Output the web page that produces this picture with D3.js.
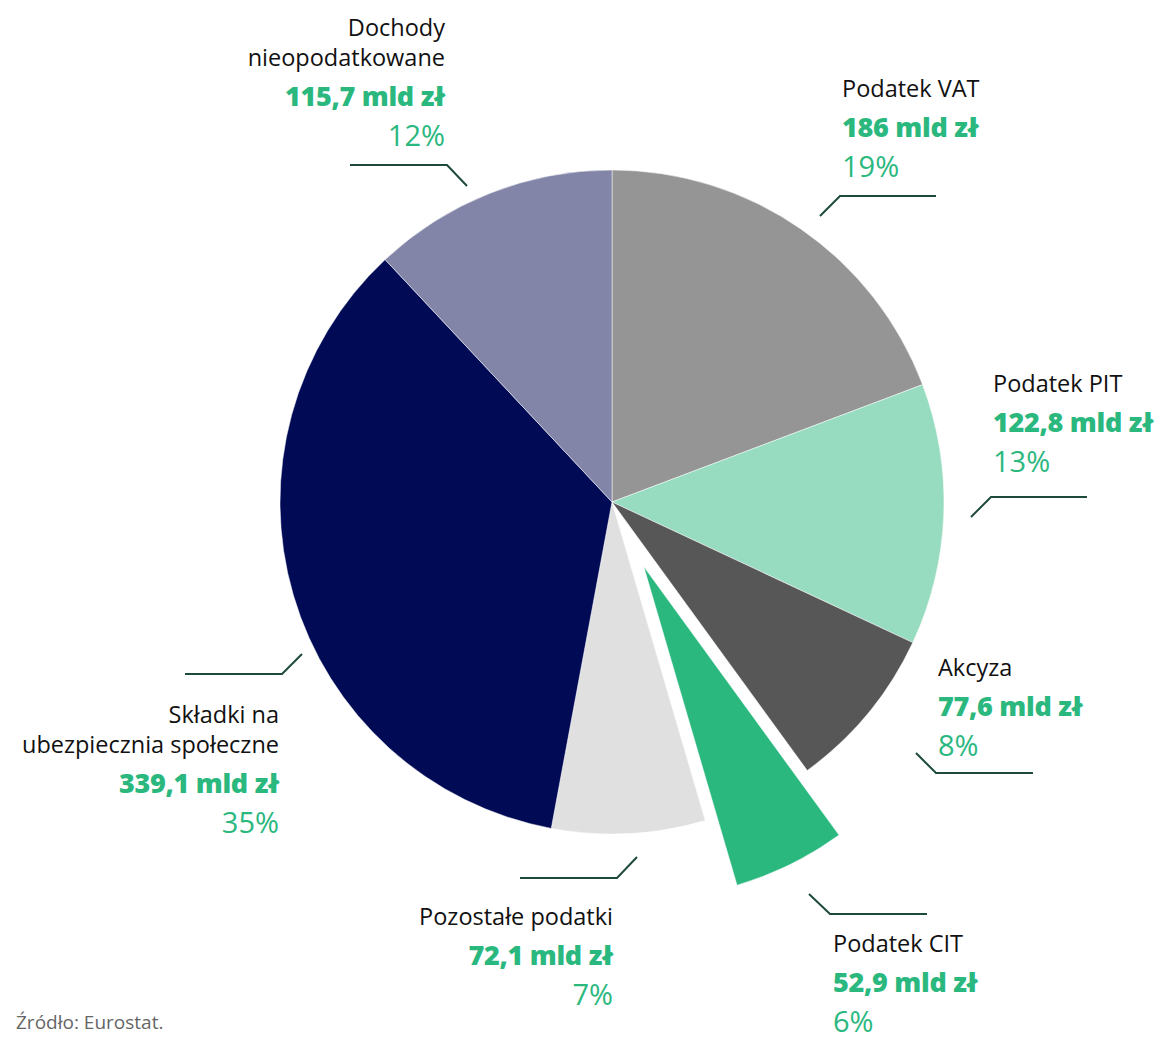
<!DOCTYPE html>
<html>
<head>
<meta charset="utf-8">
<script src="https://cdn.jsdelivr.net/npm/d3@7"></script>
<style>
  body { margin: 0; background: #fff; }
  svg { display: block; font-family: "Open Sans", Lato, sans-serif; }
</style>
</head>
<body>
<svg width="1167" height="1039"></svg>
<script>
// dochody budżetu, mld zł (źródło: Eurostat)
var categories = ["Podatek VAT", "Podatek PIT", "Akcyza", "Podatek CIT", "Pozostałe podatki", "Składki na ubezpiecznia społeczne", "Dochody nieopodatkowane"];
var values = [186, 122.8, 77.6, 52.9, 72.1, 339.1, 115.7];
var valueLabels = ["186 mld zł", "122,8 mld zł", "77,6 mld zł", "52,9 mld zł", "72,1 mld zł", "339,1 mld zł", "115,7 mld zł"];
var pctLabels = ["19%", "13%", "8%", "6%", "7%", "35%", "12%"];
var nameLines = [["Podatek VAT"], ["Podatek PIT"], ["Akcyza"], ["Podatek CIT"], ["Pozostałe podatki"], ["Składki na", "ubezpiecznia społeczne"], ["Dochody", "nieopodatkowane"]];
var colors = ["#959595", "#97dcc0", "#575757", "#2bb87f", "#e0e0e0", "#000a55", "#8285a8"];
var highlighted = "Podatek CIT";

var svg = d3.select("svg"),
    cx = 612, cy = 502,
    radius = 332,
    explode = 72;

var green = "#2bb87f", leaderColor = "#1e4a3a";

// label placement: text anchor point (first baseline) and the leader line
// leader: horizontal segment from hx1 to hx2 at hy, then a 20px diagonal toward the pie
var labelLayout = {
  "Podatek VAT":      {x: 842, y: 97,  anchor: "start", hx1: 840, hx2: 936,  hy: 196, dx: -20, dy: 20, from: "hx1"},
  "Podatek PIT":      {x: 993, y: 392, anchor: "start", hx1: 991, hx2: 1087, hy: 497, dx: -20, dy: 20, from: "hx1"},
  "Akcyza":           {x: 938, y: 676, anchor: "start", hx1: 936, hx2: 1033, hy: 773, dx: -20, dy: -20, from: "hx1"},
  "Podatek CIT":      {x: 833, y: 952, anchor: "start", hx1: 830, hx2: 927,  hy: 914, dx: -21, dy: -20, from: "hx1"},
  "Pozostałe podatki":{x: 613, y: 925, anchor: "end",   hx1: 520, hx2: 617,  hy: 878, dx: 20, dy: -21, from: "hx2"},
  "Składki na ubezpiecznia społeczne": {x: 279, y: 723, anchor: "end", hx1: 185, hx2: 282, hy: 674, dx: 20, dy: -20, from: "hx2"},
  "Dochody nieopodatkowane": {x: 445, y: 36, anchor: "end", hx1: 350, hx2: 447, hy: 165, dx: 20, dy: 21, from: "hx2"}
};

var data = categories.map(function(c, i) {
  return {name: c, value: values[i], valueLabel: valueLabels[i], pct: pctLabels[i], lines: nameLines[i], color: colors[i]};
});

var pie = d3.pie()
    .sort(null)
    .value(function(d) { return d.value; });

var arc = d3.arc()
    .innerRadius(0)
    .outerRadius(radius);

var arcs = pie(data);

var g = svg.append("g")
    .attr("transform", "translate(" + cx + "," + cy + ")");

g.selectAll("path")
    .data(arcs)
  .enter().append("path")
    .attr("d", arc)
    .attr("fill", function(d) { return d.data.color; })
    .attr("stroke", "#fff")
    .attr("stroke-width", 0.5)
    .attr("transform", function(d) {
      if (d.data.name !== highlighted) return null;
      var a = (d.startAngle + d.endAngle) / 2;
      return "translate(" + (Math.sin(a) * explode) + "," + (-Math.cos(a) * explode) + ")";
    });

// leader lines
data.forEach(function(d) {
  var L = labelLayout[d.name];
  var ex = L[L.from];
  svg.append("path")
      .attr("d", d3.line()([[L.hx1 === ex ? L.hx2 : L.hx1, L.hy], [ex, L.hy], [ex + L.dx, L.hy + L.dy]]))
      .attr("fill", "none")
      .attr("stroke", leaderColor)
      .attr("stroke-width", 2);
});

// labels
var lineGap = 30, blockGap = 40;
data.forEach(function(d) {
  var L = labelLayout[d.name];
  var t = svg.append("g").attr("text-anchor", L.anchor);
  d.lines.forEach(function(line, i) {
    t.append("text")
        .attr("x", L.x)
        .attr("y", L.y + i * lineGap)
        .attr("font-size", 23.5)
        .attr("fill", "#111")
        .text(line);
  });
  var y0 = L.y + (d.lines.length - 1) * lineGap;
  t.append("text")
      .attr("x", L.x)
      .attr("y", y0 + blockGap)
      .attr("font-size", 27)
      .attr("font-weight", 800)
      .attr("fill", green)
      .attr("letter-spacing", -0.3)
      .text(d.valueLabel);
  t.append("text")
      .attr("x", L.x)
      .attr("y", y0 + 2 * blockGap)
      .attr("font-size", 29)
      .attr("font-weight", 400)
      .attr("fill", green)
      .text(d.pct);
});

svg.append("text")
    .attr("x", 16)
    .attr("y", 1029)
    .attr("font-size", 19)
    .attr("fill", "#666")
    .text("Źródło: Eurostat.");
</script>
</body>
</html>
